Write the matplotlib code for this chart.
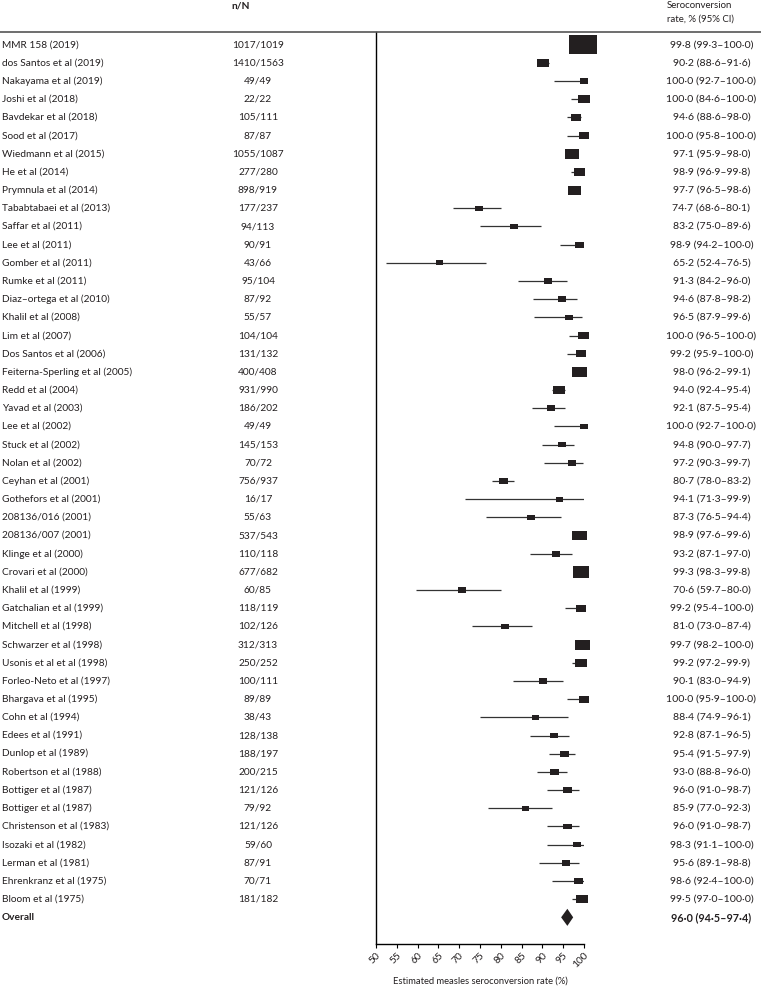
import numpy as np
import matplotlib
matplotlib.use("Agg")
import matplotlib.pyplot as plt
import matplotlib.transforms as mtransforms
from matplotlib.patches import Rectangle, Polygon
from matplotlib.lines import Line2D

# study labels and counts
studies = [
    "MMR 158 (2019)", "dos Santos et al (2019)", "Nakayama et al (2019)", "Joshi et al (2018)",
    "Bavdekar et al (2018)", "Sood et al (2017)", "Wiedmann et al (2015)", "He et al (2014)",
    "Prymnula et al (2014)", "Tababtabaei et al (2013)", "Saffar et al (2011)", "Lee et al (2011)",
    "Gomber et al (2011)", "Rumke et al (2011)", "Diaz\u2013ortega et al (2010)", "Khalil et al (2008)",
    "Lim et al (2007)", "Dos Santos et al (2006)", "Feiterna-Sperling et al (2005)", "Redd et al (2004)",
    "Yavad et al (2003)", "Lee et al (2002)", "Stuck et al (2002)", "Nolan et al (2002)",
    "Ceyhan et al (2001)", "Gothefors et al (2001)", "208136/016 (2001)", "208136/007 (2001)",
    "Klinge et al (2000)", "Crovari et al (2000)", "Khalil et al (1999)", "Gatchalian et al (1999)",
    "Mitchell et al (1998)", "Schwarzer et al (1998)", "Usonis et al et al (1998)", "Forleo-Neto et al (1997)",
    "Bhargava et al (1995)", "Cohn et al (1994)", "Edees et al (1991)", "Dunlop et al (1989)",
    "Robertson et al (1988)", "Bottiger et al (1987)", "Bottiger et al (1987)", "Christenson et al (1983)",
    "Isozaki et al (1982)", "Lerman et al (1981)", "Ehrenkranz et al (1975)", "Bloom et al (1975)",
]
n_over_N = [
    "1017/1019", "1410/1563", "49/49", "22/22", "105/111", "87/87", "1055/1087", "277/280",
    "898/919", "177/237", "94/113", "90/91", "43/66", "95/104", "87/92", "55/57",
    "104/104", "131/132", "400/408", "931/990", "186/202", "49/49", "145/153", "70/72",
    "756/937", "16/17", "55/63", "537/543", "110/118", "677/682", "60/85", "118/119",
    "102/126", "312/313", "250/252", "100/111", "89/89", "38/43", "128/138", "188/197",
    "200/215", "121/126", "79/92", "121/126", "59/60", "87/91", "70/71", "181/182",
]

# seroconversion rate as printed, % (95% CI)
est = [99.8, 90.2, 100.0, 100.0, 94.6, 100.0, 97.1, 98.9, 97.7, 74.7, 83.2, 98.9,
       65.2, 91.3, 94.6, 96.5, 100.0, 99.2, 98.0, 94.0, 92.1, 100.0, 94.8, 97.2,
       80.7, 94.1, 87.3, 98.9, 93.2, 99.3, 70.6, 99.2, 81.0, 99.7, 99.2, 90.1,
       100.0, 88.4, 92.8, 95.4, 93.0, 96.0, 85.9, 96.0, 98.3, 95.6, 98.6, 99.5]
lo = [99.3, 88.6, 92.7, 84.6, 88.6, 95.8, 95.9, 96.9, 96.5, 68.6, 75.0, 94.2,
      52.4, 84.2, 87.8, 87.9, 96.5, 95.9, 96.2, 92.4, 87.5, 92.7, 90.0, 90.3,
      78.0, 71.3, 76.5, 97.6, 87.1, 98.3, 59.7, 95.4, 73.0, 98.2, 97.2, 83.0,
      95.9, 74.9, 87.1, 91.5, 88.8, 91.0, 77.0, 91.0, 91.1, 89.1, 92.4, 97.0]
hi = [100.0, 91.6, 100.0, 100.0, 98.0, 100.0, 98.0, 99.8, 98.6, 80.1, 89.6, 100.0,
      76.5, 96.0, 98.2, 99.6, 100.0, 100.0, 99.1, 95.4, 95.4, 100.0, 97.7, 99.7,
      83.2, 99.9, 94.4, 99.6, 97.0, 99.8, 80.0, 100.0, 87.4, 100.0, 99.9, 94.9,
      100.0, 96.1, 96.5, 97.9, 96.0, 98.7, 92.3, 98.7, 100.0, 98.8, 100.0, 100.0]

# marker positions as drawn (a few differ from the printed numbers)
plot_est = list(est)
plot_lo = list(lo)
plot_hi = list(hi)
plot_lo[3] = 96.8                                          # Joshi
plot_est[4], plot_lo[4], plot_hi[4] = 98.1, 95.9, 99.2     # Bavdekar
plot_est[18], plot_lo[18], plot_hi[18] = 98.8, 97.2, 99.9  # Feiterna-Sperling

# relative study weights (box area)
weight = [8.0, 1.44, 0.69, 1.28, 1.06, 1.0, 1.96, 1.28, 1.77, 0.59, 0.59, 0.81,
          0.49, 0.59, 0.64, 0.64, 1.21, 1.0, 2.25, 1.37, 0.69, 0.69, 0.64, 0.64,
          0.86, 0.49, 0.59, 2.04, 0.69, 2.79, 0.59, 1.0, 0.59, 2.16, 1.51, 0.59,
          1.06, 0.53, 0.69, 0.81, 0.81, 0.69, 0.59, 0.69, 0.69, 0.69, 0.76, 1.37]

overall = (96.0, 94.5, 97.4)

xticks = list(range(50, 101, 5))


def fmt(v):
    return f"{v:.1f}".replace(".", "\u00b7")


def ci_label(e, l, h):
    return f"{fmt(e)} ({fmt(l)}\u2013{fmt(h)})"


W, H = 761, 991
plt.rcParams['font.family'] = ['Lato', 'DejaVu Sans']
txt_col = "#231f20"

fig = plt.figure(figsize=(W / 100, H / 100), dpi=100)
renderer = fig.canvas.get_renderer()


def fit_size(s, target_px, weight="normal"):
    # font size that makes string s about target_px wide
    t = fig.text(0, 0, s, fontsize=10, fontweight=weight)
    w = t.get_window_extent(renderer).width
    t.remove()
    return 10 * target_px / w


fs_name = fit_size("Christenson et al (1983)", 106)
fs_ci = fit_size(ci_label(99.8, 99.3, 100.0), 83)
fs_ci_bold = fit_size(ci_label(*overall), 80, "bold")
fs_head = fit_size("Seroconversion", 66)
fs_xlab = fit_size("Estimated measles seroconversion rate (%)", 176)
fs_n = fs_name
fs_tick = fs_name

ax_left, ax_right, ax_top, ax_bot = 376, 584, 32, 944
ax = fig.add_axes([ax_left / W, 1 - ax_bot / H, (ax_right - ax_left) / W, (ax_bot - ax_top) / H])

row0, row_h = 44.7, 18.18
ax.set_ylim((ax_bot - row0) / row_h, -(row0 - ax_top) / row_h)
ax.set_xlim(50, 100)

px_x = (ax_right - ax_left) / 50.0   # px per percentage point

for i in range(len(studies)):
    ax.plot([plot_lo[i], plot_hi[i]], [i, i], color="#333333", lw=0.9, solid_capstyle="butt", zorder=2)
    bw_px = np.sqrt(weight[i]) * 10
    bw = bw_px / px_x
    bh = bw_px / 1.45 / row_h
    ax.add_patch(Rectangle((plot_est[i] - bw / 2, i - bh / 2), bw, bh,
                           facecolor="#231f20", edgecolor="none", zorder=3, clip_on=False))

k = len(studies)
dh = 0.47
ax.add_patch(Polygon([(overall[1], k), (overall[0], k - dh), (overall[2], k), (overall[0], k + dh)],
                     closed=True, facecolor="#231f20", edgecolor="none", zorder=3, clip_on=False))

for s in ["top", "right"]:
    ax.spines[s].set_visible(False)
for s in ["left", "bottom"]:
    ax.spines[s].set_linewidth(1.0)
    ax.spines[s].set_color("black")
ax.set_yticks([])
ax.set_xticks(xticks)
ax.set_xticklabels([str(t) for t in xticks], rotation=45, ha="right", rotation_mode="anchor",
                   fontsize=fs_tick, color=txt_col)
ax.tick_params(axis="x", direction="out", length=3, width=0.8, pad=2)
fig.text(480 / W, 1 - 981 / H, "Estimated measles seroconversion rate (%)", ha="center", va="center",
         fontsize=fs_xlab, color=txt_col)

trans = mtransforms.blended_transform_factory(fig.transFigure, ax.transData)
for i in range(len(studies)):
    ax.text(2 / W, i, studies[i], transform=trans, ha="left", va="center", fontsize=fs_name, color=txt_col)
    ax.text(258 / W, i, n_over_N[i], transform=trans, ha="center", va="center", fontsize=fs_n, color=txt_col)
    ax.text(711.5 / W, i, ci_label(est[i], lo[i], hi[i]), transform=trans,
            ha="center", va="center", fontsize=fs_ci, color=txt_col)
ax.text(2 / W, k, "Overall", transform=trans, ha="left", va="center", fontsize=fs_name,
        fontweight="bold", color=txt_col)
ax.text(711.5 / W, k, ci_label(*overall), transform=trans,
        ha="center", va="center", fontsize=fs_ci_bold, fontweight="bold", color=txt_col)

# header
fig.text(241 / W, 1 - 6 / H, "n/N", ha="center", va="center", fontsize=fs_n, fontweight="bold", color=txt_col)
fig.text(667 / W, 1 - 6 / H, "Seroconversion", ha="left", va="center", fontsize=fs_head, color=txt_col)
fig.text(667 / W, 1 - 19 / H, "rate, % (95% CI)", ha="left", va="center", fontsize=fs_head, color=txt_col)
fig.add_artist(Line2D([0, 1], [1 - 32.3 / H, 1 - 32.3 / H], transform=fig.transFigure,
                      color="#555555", lw=1.2))

fig.savefig("out.png", dpi=100)
